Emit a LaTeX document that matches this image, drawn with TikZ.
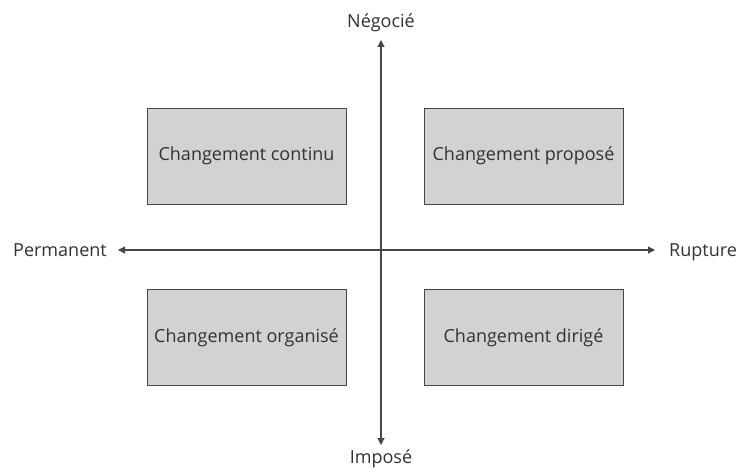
\documentclass[tikz,border=0pt]{standalone}
\usepackage{fontspec}
\setmainfont{Open Sans}
\usepackage{xcolor}
\usetikzlibrary{positioning}
\usetikzlibrary{arrows.meta}
\definecolor{boxgray}{RGB}{210,210,210}
\definecolor{linegray}{RGB}{70,70,70}
\definecolor{textgray}{RGB}{50,50,50}

\begin{document}
\begin{tikzpicture}[x=1pt, y=-1pt, font=\fontsize{18}{21}\selectfont, text=textgray,
    quad/.style={draw=linegray, line width=0.9pt, fill=boxgray, minimum width=199pt, minimum height=96pt, inner sep=0pt},
    axe/.style={linegray, line width=1.1pt, {Triangle[length=7pt,width=7pt]}-{Triangle[length=7pt,width=7pt]}}]
    \useasboundingbox (0,0) rectangle (739,468);
    \node[anchor=base, inner sep=0pt] (nego) at (381, 28) {Négocié};
    \node[anchor=base, inner sep=0pt] (impo) at (381, 463) {Imposé};
    \node[anchor=base east, inner sep=0pt] (perm) at (107, 256) {Permanent};
    \node[anchor=base west, inner sep=0pt] (rupt) at (669, 256) {Rupture};
    \node[quad] (cont) at (246.5, 156) {Changement continu};
    \node[quad] (prop) at (523.5, 156) {Changement proposé};
    \node[quad] (orga) at (246.5, 337.5) {Changement organisé};
    \node[quad] (diri) at (523.5, 337.5) {Changement dirigé};
    \draw[axe] ([xshift=11pt,yshift=6pt]perm.base east) -- ([xshift=-14pt,yshift=6pt]rupt.base west);
    \draw[axe] ([yshift=-12pt]nego.base) -- ([yshift=18pt]impo.base);
\end{tikzpicture}
\end{document}
